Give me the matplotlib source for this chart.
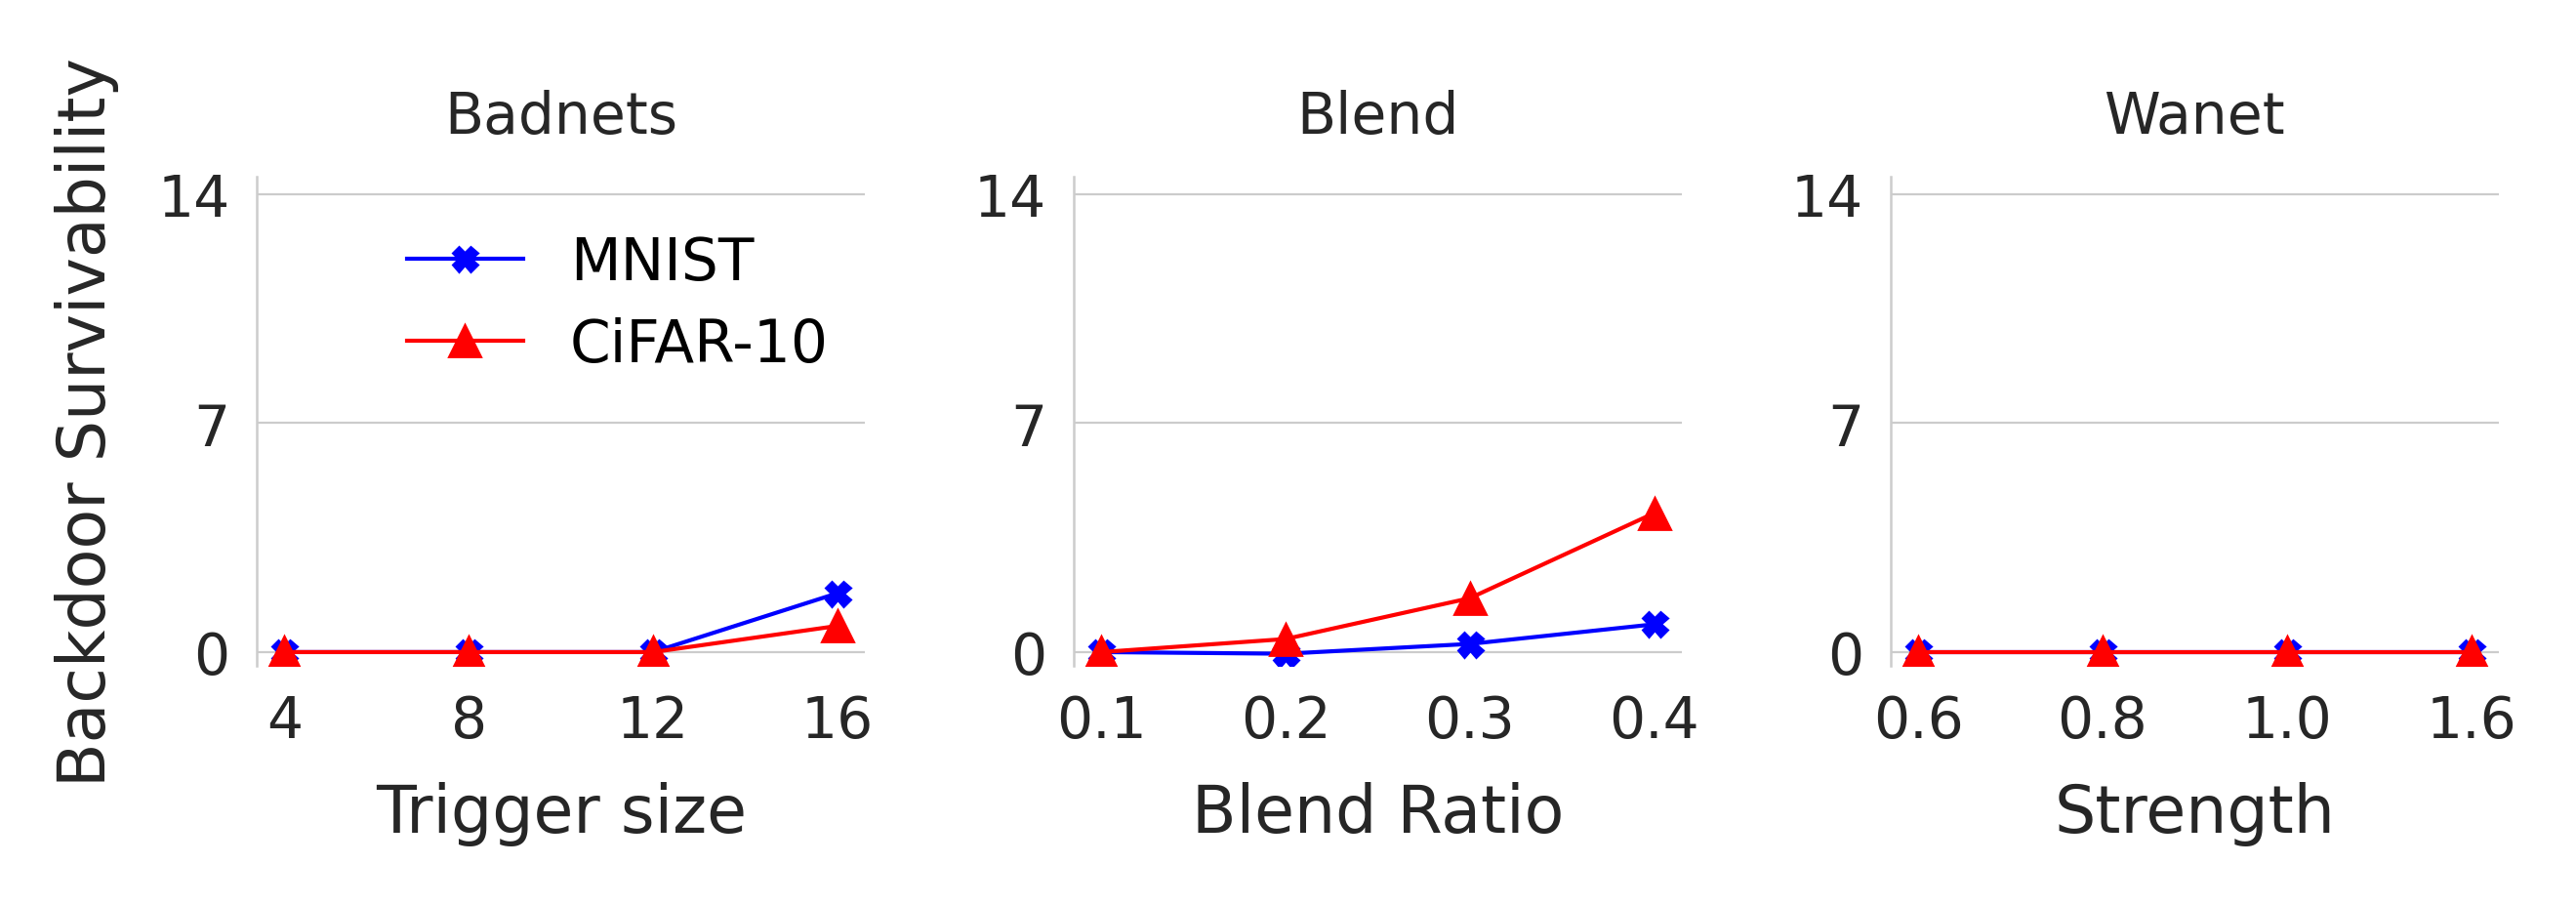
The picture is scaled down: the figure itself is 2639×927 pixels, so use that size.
import matplotlib
matplotlib.use("Agg")
import matplotlib.pyplot as plt

# ---------------- DATA ----------------
panel_titles = ["Badnets", "Blend", "Wanet"]
x_labels = ["Trigger size", "Blend Ratio", "Strength"]
x_ticks = [
    ["4", "8", "12", "16"],
    ["0.1", "0.2", "0.3", "0.4"],
    ["0.6", "0.8", "1.0", "1.6"],
]
mnist = [
    [0.0, 0.0, 0.0, 1.8],
    [0.0, -0.05, 0.25, 0.85],
    [0.0, 0.0, 0.0, 0.0],
]
cifar = [
    [0.0, 0.0, 0.0, 0.8],
    [0.0, 0.4, 1.65, 4.25],
    [0.0, 0.0, 0.0, 0.0],
]
y_ticks = [0, 7, 14]

# ---------------- STYLE ----------------
plt.rcParams["font.family"] = ["DejaVu Sans"]
TEXT = "#262626"
GRID = "#cccccc"

fig, axes = plt.subplots(1, 3, figsize=(13.195, 4.64), dpi=200)
fig.subplots_adjust(left=0.0997, right=0.970, bottom=0.264, top=0.804, wspace=0.343)

for i, ax in enumerate(axes):
    xs = range(len(x_ticks[i]))
    ax.plot(xs, mnist[i], color="blue", marker="X", markersize=9, linewidth=1.5,
            label="MNIST")
    ax.plot(xs, cifar[i], color="red", marker="^", markersize=11.5, linewidth=1.5,
            label="CiFAR-10")

    ax.set_xticks(list(xs))
    ax.set_xticklabels(x_ticks[i])
    ax.set_yticks(y_ticks)
    ax.set_ylim(-0.42, 14.54)
    ax.set_xlim(-0.15, 3.15)

    ax.grid(axis="y", color=GRID, linewidth=0.8)
    ax.set_axisbelow(True)
    for side in ["top", "right", "bottom"]:
        ax.spines[side].set_visible(False)
    ax.spines["left"].set_color(GRID)
    ax.spines["left"].set_linewidth(0.9)

    ax.tick_params(axis="both", length=0, labelsize=21, colors=TEXT, pad=10)
    ax.set_title(panel_titles[i], fontsize=21, color=TEXT, pad=16)
    ax.set_xlabel(x_labels[i], fontsize=24, color=TEXT, labelpad=12)

axes[0].set_ylabel("Backdoor Survivability", fontsize=24, color=TEXT, labelpad=14)
axes[0].legend(loc="upper left", bbox_to_anchor=(0.16, 0.99), frameon=False,
               fontsize=21.5, labelspacing=0.42, borderpad=0.4)

fig.savefig("out.png", dpi=200)
